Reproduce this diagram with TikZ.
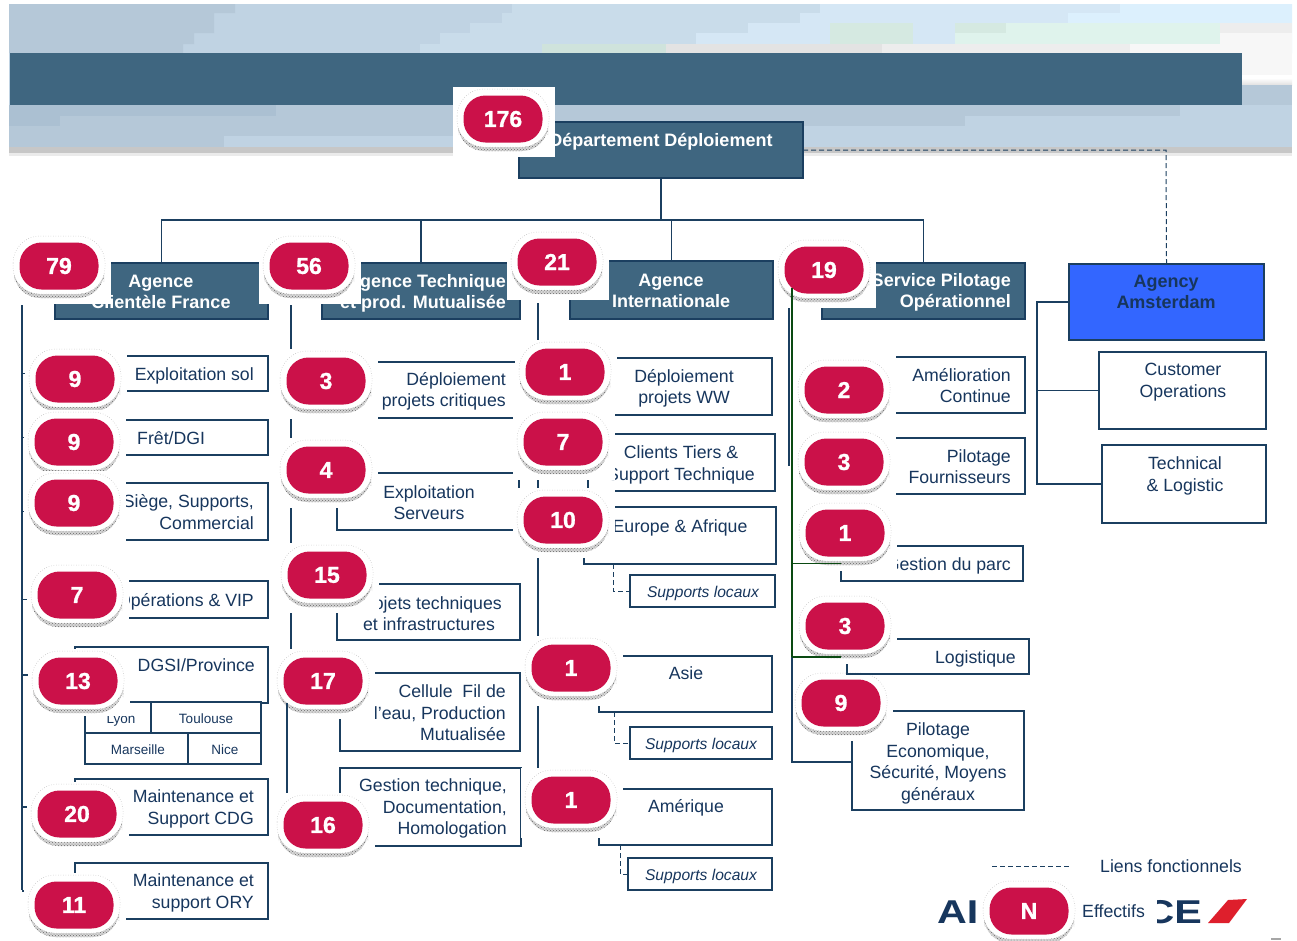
\documentclass[tikz,border=0pt]{standalone}
\usepackage{fontspec}
\setmainfont{Liberation Sans}
\newfontfamily\badgefont[FakeBold=1.1]{Liberation Sans Bold}
\usetikzlibrary{patterns}
\definecolor{bar}{HTML}{3F6680}
\definecolor{navy}{HTML}{1B3F60}
\definecolor{txt}{HTML}{17365D}
\definecolor{crim}{HTML}{CB1149}
\definecolor{ama}{HTML}{3366FF}
\definecolor{greenl}{HTML}{0A4A12}
\definecolor{ba}{HTML}{ABC0D2}
\definecolor{bb}{HTML}{B5C8D8}
\definecolor{bc}{HTML}{C0D3E3}
\definecolor{bd}{HTML}{C9DCEA}
\definecolor{be}{HTML}{D5E7F5}
\definecolor{bf}{HTML}{DCF0FD}
\definecolor{ga}{HTML}{CFE3DC}
\definecolor{gb}{HTML}{D5E9E1}
\definecolor{gc}{HTML}{DFF3EC}
\definecolor{stripe}{HTML}{DE1F2C}
\tikzset{
  ln/.style={draw=navy,line width=1.1pt},
  dsh/.style={draw=navy,line width=1pt,dash pattern=on 5pt off 3pt},
  box/.style={draw=navy,line width=1.1pt,fill=white,inner sep=0pt,outer sep=0pt},
  headbox/.style={draw=navy,line width=1.1pt,fill=bar,inner sep=0pt,outer sep=0pt},
  amabox/.style={draw=navy,line width=1.1pt,fill=ama,inner sep=0pt,outer sep=0pt},
  lbl/.style={text=txt,font=\fontsize{17.7}{21.6}\selectfont,inner sep=0pt,align=center},
  lblr/.style={lbl,anchor=east},
  lbll/.style={lbl,anchor=west},
  one/.style={text height=13pt,text depth=0pt},
  wht/.style={text=white,font=\fontsize{18}{21}\selectfont\bfseries,inner sep=0pt},
  whtr/.style={wht,anchor=east},
  small/.style={text=txt,font=\fontsize{13.5}{15}\selectfont,inner sep=0pt,text height=10pt,text depth=0pt},
  sup/.style={text=txt,font=\fontsize{15.6}{18}\selectfont\itshape,inner sep=0pt,text height=11.4pt,text depth=0pt},
  badgebody/.style={fill=crim,rounded corners=22pt,minimum width=79pt,minimum height=47pt,inner sep=0pt,text=white,font=\fontsize{23}{25}\selectfont\badgefont},
}
% \bx[style]{name}{x1}{y1}{x2}{y2}
\newcommand{\bx}[6][box]{%
  \pgfmathsetmacro{\bxcx}{(#3+#5)/2}\pgfmathsetmacro{\bxcy}{(#4+#6)/2}%
  \pgfmathsetmacro{\bxw}{#5-#3}\pgfmathsetmacro{\bxh}{#6-#4}%
  \node[#1,minimum width=\bxw pt,minimum height=\bxh pt] (#2) at (\bxcx,\bxcy) {};}
% \badge[bottom offset]{name}{cx}{cy}{text}
\newcommand{\badge}[5][38]{%
  \fill[white] (#3-50,#4-32) rectangle (#3+52,#4+#1);
  \fill[black!16,rounded corners=26pt] (#3-45,#4-10) rectangle (#3+45,#4+32);
  \fill[pattern=crosshatch dots,pattern color=black!60,rounded corners=26pt] (#3-45,#4-10) rectangle (#3+45,#4+32);
  \draw[gray!60,line width=.5pt,dotted,fill=white,rounded corners=27pt] (#3-46,#4-30) rectangle (#3+46,#4+28);
  \node[badgebody] (#2) at (#3,#4) {#5};}
\begin{document}
\begin{tikzpicture}[x=1pt,y=-1pt]
\useasboundingbox (0,0) rectangle (1297,940);
\fill[white] (0,0) rectangle (1297,940);
% ---------- background band
\fill[bc] (9,4) rectangle (1292,147);
\fill[bb] (9,4) -| (235,13) -| (214,33) -| (194,44) -| (183,53) -- (9,53) -- cycle;
\fill[bd] (512,4) -| (820,13) -| (800,23) -| (748,33) -| (696,44) -| (666,53) -- (420,53) |- (440,44) |- (470,33) |- (502,23) |- (512,13) -- cycle;
\fill[be] (820,4) -| (1120,13) -| (1068,53) -- (666,53) |- (696,44) |- (748,33) |- (800,23) |- (820,13) -- cycle;
\fill[bf] (1120,4) -| (1292,53) -- (1068,53) |- (1120,13) -- cycle;
\fill[gb] (830,23) rectangle (913,44);
\fill[gb] (955,23) rectangle (1006,33);
\fill[gc] (955,33) rectangle (1220,44);
\fill[gc] (1006,23) rectangle (1220,33);
\fill[black!7] (1220,23) rectangle (1292,33);
\fill[black!3] (1220,33) rectangle (1292,75);
\fill[ga] (542,44) rectangle (666,53);
\fill[black!11] (666,44) rectangle (882,53);
\fill[black!7] (882,44) rectangle (1130,53);
\fill[black!3] (1130,44) rectangle (1292,53);
\fill[white] (1242,75) rectangle (1292,78);
\shade[top color=white,bottom color=black!12] (1242,78) rectangle (1292,85);
\fill[bb] (1242,85) rectangle (1292,105);
% lower band
\fill[bb] (9,105) rectangle (1180,116);
\fill[ba] (9,105) rectangle (276,116);
\fill[ba] (9,116) rectangle (60,126);
\fill[bb] (60,116) rectangle (965,126);
\fill[bb] (9,126) rectangle (552,147);
\fill[bc] (224,136) rectangle (552,147);
\fill[black!22] (9,147) rectangle (1292,153);
\fill[black!8] (9,153) rectangle (1292,156);
% dark title bar
\fill[bar] (10,53) rectangle (1242,105);

% ---------- coordinates for spines and buses
\coordinate (bus) at (661,220);
\coordinate (dashA) at (1166,150);
\coordinate (sp1a) at (22,305);  \coordinate (sp1b) at (22,890);
\coordinate (sp2a) at (291,305); \coordinate (sp2b) at (291,650);
\coordinate (sp2c) at (287,703); \coordinate (sp2d) at (287,793);
\coordinate (sp3a) at (538,303); \coordinate (sp3b) at (538,790);
\coordinate (sp4a) at (789,308); \coordinate (sp4b) at (789,466);
\coordinate (sp4c) at (792,288); \coordinate (sp4d) at (792,657);
\coordinate (sp4e) at (792,762);
\coordinate (spA) at (1037,302); \coordinate (spB) at (1037,484);

% ---------- head boxes
\bx[headbox]{dept}{519}{122}{803}{178}
\bx[headbox]{ag1}{55}{263}{268}{319}
\bx[headbox]{ag2}{322}{263}{520}{319}
\bx[headbox]{ag3}{570}{261}{773}{319}
\bx[headbox]{ag4}{822}{263}{1025}{319}
\bx[amabox]{ams}{1069}{264}{1264}{340}
\node[wht] (tdept) at (661,141.5) {Département Déploiement};
\node[wht,align=center] (tag1) at (161,291.5) {Agence\\Clientèle France};
\node[whtr,align=right] (tag2) at (506,293) {Agence Technique\\et prod. Mutualisée};
\node[wht,align=center] (tag3) at (671,290.5) {Agence\\Internationale};
\node[whtr,align=right] (tag4) at (1011,292) {Service Pilotage\\Opérationnel};
\node[wht,text=txt,align=center] (tams) at (1166,292) {Agency\\Amsterdam};

% ---------- tree connectors
\draw[ln] (dept.south) -- (bus);
\draw[ln] (ag1.north) |- (bus);
\draw[ln] (ag2.north) |- (bus);
\draw[ln] (ag3.north) |- (bus);
\draw[ln] (ag4.north) |- (bus);
\draw[dsh] (dept.east |- dashA) -- (dashA) -- (ams.north);

% ---------- column 1
\bx{c1a}{75}{356}{268}{391}
\bx{c1b}{75}{420}{268}{455}
\bx{c1c}{75}{483}{268}{540}
\bx{c1d}{75}{581}{268}{618}
\bx{c1e}{75}{647}{268}{703}
\bx{c1f}{75}{779}{268}{835}
\bx{c1g}{75}{863}{268}{919}
\draw[ln] (sp1a) -- (sp1b);
\foreach \n in {c1a,c1b,c1c,c1d,c1e,c1f,c1g} \draw[ln] (sp1a |- \n.west) -- (\n.west);
\node[lblr,one] (t1a) at (254,374) {Exploitation sol};
\node[lbll,one] (t1b) at (137,438) {Frêt/DGI};
\node[lblr,align=right] (t1c) at (254,512) {Siège, Supports,\\Commercial};
\node[lblr,one] (t1d) at (254,600) {Opérations \& VIP};
\node[lblr,one] (t1e) at (255,665) {DGSI/Province};
\node[lblr,align=right] (t1f) at (254,809) {Maintenance et\\Support CDG};
\node[lblr,align=right] (t1g) at (254,893) {Maintenance et\\support ORY};
% DGSI grid
\bx{gr1}{85}{702}{151}{733}
\bx{gr2}{151}{702}{261}{733}
\bx{gr3}{85}{733}{188}{764}
\bx{gr4}{188}{733}{261}{764}
\node[small] (tg1) at (121,718) {Lyon};
\node[small] (tg2) at (206,718) {Toulouse};
\node[small] (tg3) at (138,749) {Marseille};
\node[small] (tg4) at (225,749) {Nice};

% ---------- column 2
\bx{c2a}{337}{362}{519}{418}
\bx{c2b}{337}{473}{519}{530}
\bx{c2c}{337}{584}{520}{640}
\bx{c2d}{340}{673}{520}{751}
\bx{c2e}{340}{768}{521}{846}
\draw[ln] (sp2a) -- (sp2b);
\foreach \n in {c2a,c2b,c2c} \draw[ln] (sp2a |- \n.west) -- (\n.west);
\foreach \n in {c2d,c2e} \draw[ln] (sp2c |- \n.west) -- (\n.west);
\node[lblr,align=right] (t2a) at (506,391.5) {Déploiement\\projets critiques};
\node[lbl] (t2b) at (429,502.5) {Exploitation\\Serveurs};
\node[lbl] (t2c) at (429,613.5) {Projets techniques\\et infrastructures};
\node[lblr,align=right] (t2d) at (506,713) {Cellule\ \ Fil de\\l’eau, Production\\Mutualisée};
\node[lblr,align=right] (t2e) at (507,808.5) {Gestion technique,\\Documentation,\\Homologation};

% ---------- column 3
\bx{c3a}{596}{358}{772}{415}
\bx{c3b}{588}{434}{775}{491}
\bx{c3c}{584}{507}{776}{564}
\bx{c3d}{599}{656}{772}{712}
\bx{c3e}{599}{789}{772}{845}
\bx{s1}{630}{575}{775}{607}
\bx{s2}{630}{727}{772}{759}
\bx{s3}{628}{858}{772}{890}
\draw[ln] (sp3a) -- (sp3b);
\foreach \n in {c3a,c3b,c3c,c3d,c3e} \draw[ln] (sp3a |- \n.west) -- (\n.west);
\coordinate (j1) at (613,564); \coordinate (j2) at (614,712); \coordinate (j3) at (620,845);
\draw[dsh] (j1) |- (s1.west);
\draw[dsh] (j2) |- (s2.west);
\draw[dsh] (j3) |- (s3.west);
\node[lbl] (t3a) at (684,388.5) {Déploiement\\projets WW};
\node[lbl] (t3b) at (681,465) {Clients Tiers \&\\Support Technique};
\node[lbl,one] (t3c) at (680,526) {Europe \& Afrique};
\node[lbl,one] (t3d) at (686,673) {Asie};
\node[lbl,one] (t3e) at (686,806) {Amérique};
\node[sup] (ts1) at (703,592) {Supports locaux};
\node[sup] (ts2) at (701,744) {Supports locaux};
\node[sup] (ts3) at (701,875) {Supports locaux};

% ---------- column 4
\bx{c4a}{845}{357}{1025}{413}
\bx{c4b}{845}{438}{1025}{494}
\bx{c4c}{841}{546}{1023}{581}
\bx{c4d}{847}{639}{1029}{674}
\bx{c4e}{852}{711}{1024}{810}
\node[lblr,align=right] (t4a) at (1011,385.5) {Amélioration\\Continue};
\node[lblr,align=right] (t4b) at (1011,466.5) {Pilotage\\Fournisseurs};
\node[lblr,one] (t4c) at (1011,564) {Gestion du parc};
\node[lblr,one] (t4d) at (1016,657) {Logistique};
\node[lbl] (t4e) at (938,763.5) {Pilotage\\Economique,\\Sécurité, Moyens\\généraux};

% ---------- Amsterdam children
\bx{am1}{1099}{352}{1266}{429}
\bx{am2}{1102}{445}{1266}{523}
\draw[ln] (ams.west) -- (spA) -- (spB) -- (am2.west);
\draw[ln] (spA |- am1.west) -- (am1.west);
\node[lbl] (tam1) at (1183,382) {Customer\\Operations};
\node[lbl] (tam2) at (1185,476) {Technical\\\& Logistic};

% ---------- badges
\badge{b176}{503}{119}{176}
\badge{b79}{59}{266}{79}
\badge{b56}{309}{266}{56}
\badge{b21}{557}{262}{21}
\badge{b19}{824}{270}{19}
\badge{n1a}{75}{379}{9}
\badge{n1b}{74}{442}{9}
\badge{n1c}{74}{503}{9}
\badge{n1d}{77}{595}{7}
\badge[35]{n1e}{78}{681}{13}
\badge{n1f}{77}{814}{20}
\badge{n1g}{74}{905}{11}
\badge{n2a}{326}{381}{3}
\badge{n2b}{326}{470}{4}
\badge{n2c}{327}{575}{15}
\badge{n2d}{323}{681}{17}
\draw[ln] (sp2c) -- (sp2d);
\badge{n2e}{323}{825}{16}
\badge{n3a}{565}{372}{1}
\badge{n3b}{563}{442}{7}
\badge{n3c}{563}{520}{10}
\badge{n3d}{571}{668}{1}
\badge{n3e}{571}{800}{1}
\fill[white] (794,355) rectangle (896,360);
\badge{n4a}{844}{390}{2}
\badge{n4b}{844}{462}{3}
\badge{n4c}{845}{533}{1}
\badge{n4d}{845}{626}{3}
\badge{n4e}{841}{703}{9}
\draw[ln] (c4d.west |- sp4d) ++(0,7) -- (c4d.south west) -- (c4d.south);

% ---------- column 4 spine (over the halos)
\draw[draw=navy,line width=2pt] (sp4a) -- (sp4b);
\draw[draw=greenl,line width=1.2pt] (sp4c) -- (sp4d);
\draw[ln] (sp4d) -- (sp4e) -- (c4e.west |- sp4e);
\draw[draw=greenl,line width=1.2pt] (c4c.west) -- (sp4c |- c4c.west);
\draw[draw=greenl,line width=1.2pt] (sp4d) -- (c4c.west |- sp4d);

% ---------- legend
\coordinate (lega) at (992,866); \coordinate (legb) at (1070,866);
\draw[dsh] (lega) -- (legb);
\node[lbl,one] (tleg1) at (1171,866) {Liens fonctionnels};
\node[inner sep=0pt,anchor=west,text=txt,font=\fontsize{33}{35}\selectfont\bfseries] (logoA) at (937,912) {\scalebox{1.25}[1]{AI}};
\node[inner sep=0pt,anchor=east,text=txt,font=\fontsize{33}{35}\selectfont\bfseries] (logoB) at (1202,912) {\scalebox{1.25}[1]{CE}};
\fill[white] (979,892) rectangle (1157,940);
\fill[stripe] (1208,923) -- (1228,900) -- (1247,899) -- (1229,923) -- cycle;
\badge[25]{legN}{1029}{911}{N}
\node[lbll,one] (tleg2) at (1082,911) {Effectifs};
\fill[gray!70] (1271,938) rectangle (1281,940);
\end{tikzpicture}
\end{document}
